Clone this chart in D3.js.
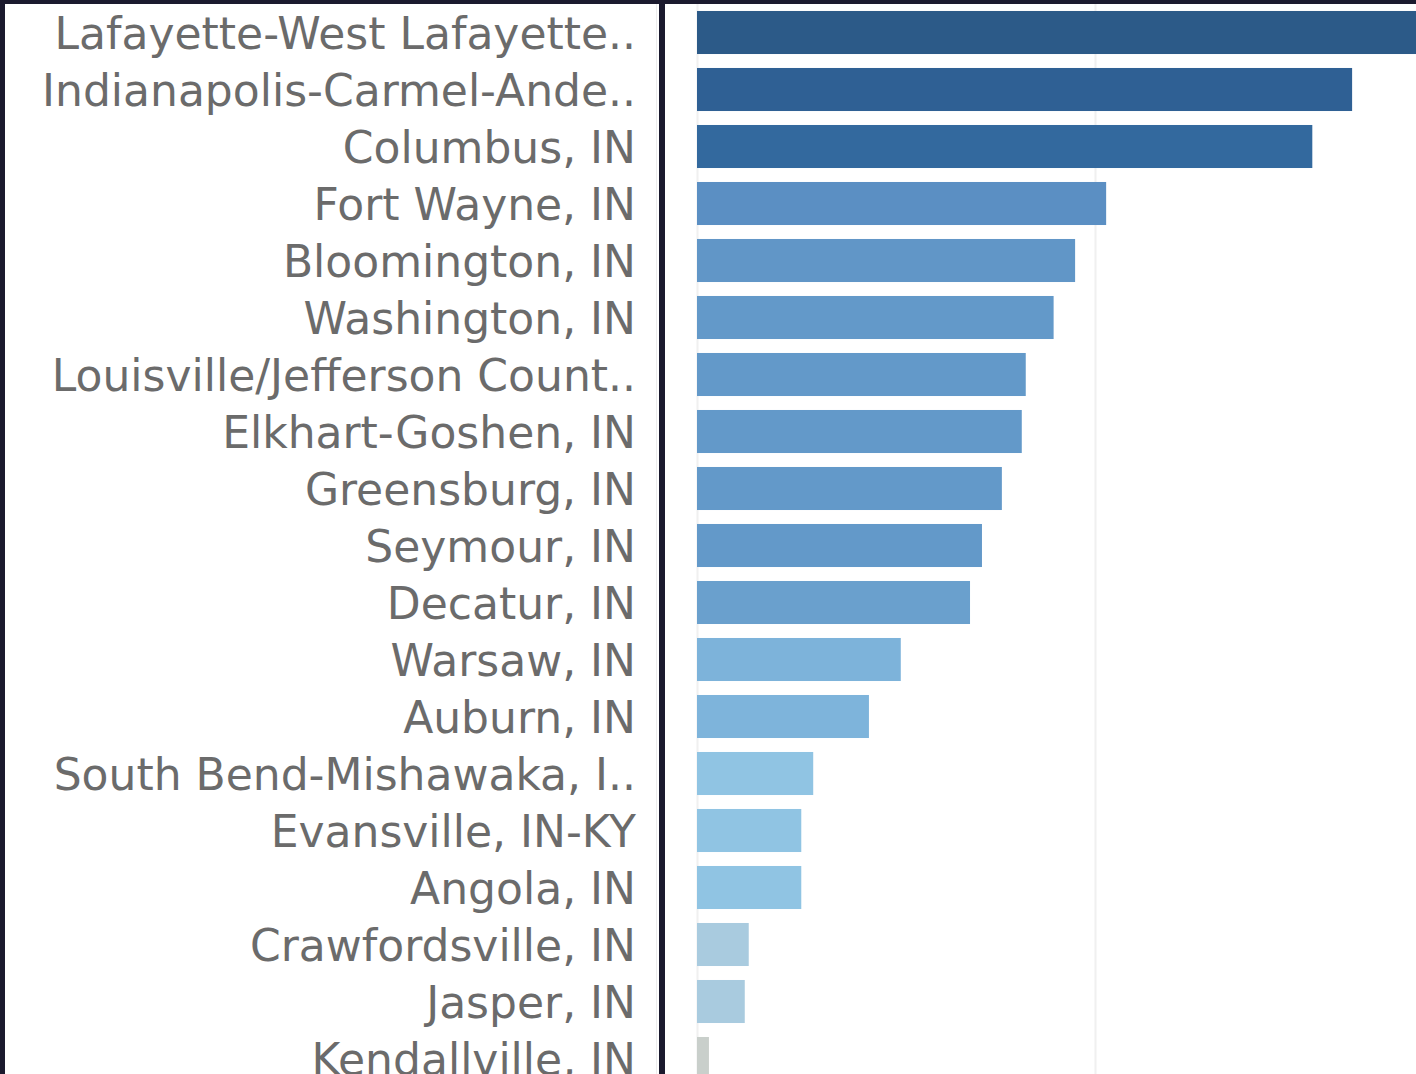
<!DOCTYPE html>
<html>
<head>
<meta charset="utf-8">
<script src="https://cdn.jsdelivr.net/npm/d3@7"></script>
<style>
  html, body { margin: 0; padding: 0; background: #1b1a2e; }
  svg { display: block; }
</style>
</head>
<body>
<div id="chart"></div>
<script>
// metro areas, top to bottom
var areas = [
    "Lafayette-West Lafayette..",
    "Indianapolis-Carmel-Ande..",
    "Columbus, IN",
    "Fort Wayne, IN",
    "Bloomington, IN",
    "Washington, IN",
    "Louisville/Jefferson Count..",
    "Elkhart-Goshen, IN",
    "Greensburg, IN",
    "Seymour, IN",
    "Decatur, IN",
    "Warsaw, IN",
    "Auburn, IN",
    "South Bend-Mishawaka, I..",
    "Evansville, IN-KY",
    "Angola, IN",
    "Crawfordsville, IN",
    "Jasper, IN",
    "Kendallville, IN"
];
// bar length measure
var values = [93, 82.3, 77.3, 51.4, 47.5, 44.8, 41.3, 40.8, 38.3, 35.8, 34.3, 25.6, 21.6, 14.6, 13.1, 13.1, 6.5, 6.0, 1.5];
// colour measure
var shade = [1.0, 0.95, 0.9, 0.75, 0.68, 0.65, 0.65, 0.65, 0.65, 0.65, 0.6, 0.45, 0.44, 0.3, 0.3, 0.3, 0.15, 0.15, 0.0];
var gridTicks = [0, 50];

var W = 1416, H = 1074;
var labelRight = 636;

var svg = d3.select("#chart").append("svg")
    .attr("width", W)
    .attr("height", H);

// white panels on dark frame
svg.append("rect").attr("x", 5).attr("y", 4).attr("width", 654).attr("height", H - 4).attr("fill", "#ffffff");
svg.append("rect").attr("x", 665).attr("y", 4).attr("width", W - 665).attr("height", H - 4).attr("fill", "#ffffff");
svg.append("line").attr("x1", 656.5).attr("x2", 656.5).attr("y1", 4).attr("y2", H)
    .attr("stroke", "#ececec").attr("stroke-width", 1);

var y = d3.scaleBand()
    .domain(areas)
    .range([4, 4 + 57 * areas.length])
    .paddingInner(0.245)
    .paddingOuter(0.1225);

var x = d3.scaleLinear()
    .domain([0, 100])
    .range([697, 697 + 796]);

var color = d3.scaleLinear()
    .domain([0, 0.15, 0.3, 0.45, 0.65, 0.75, 0.9, 0.95, 1])
    .range(["#c9cfcb", "#a9cbdf", "#90c4e3", "#7db3da", "#6399c9", "#5b8fc3", "#33699e", "#2f6094", "#2c5a88"]);

var plot = svg.append("g");

plot.selectAll(".grid")
    .data(gridTicks)
    .enter().append("line")
    .attr("class", "grid")
    .attr("x1", function (d) { return x(d) + 0.5; })
    .attr("x2", function (d) { return x(d) + 0.5; })
    .attr("y1", 4)
    .attr("y2", H)
    .attr("stroke", "#f0f0f0")
    .attr("stroke-width", 2);

plot.selectAll(".bar")
    .data(areas)
    .enter().append("rect")
    .attr("class", "bar")
    .attr("x", x(0))
    .attr("y", function (d) { return y(d); })
    .attr("width", function (d, i) { return x(values[i]) - x(0); })
    .attr("height", y.bandwidth())
    .attr("fill", function (d, i) { return color(shade[i]); });

svg.append("g").selectAll("text")
    .data(areas)
    .enter().append("text")
    .attr("x", labelRight)
    .attr("y", function (d) { return y(d) + y.bandwidth() / 2; })
    .attr("dy", "0.37em")
    .attr("text-anchor", "end")
    .attr("fill", "#6b6b6b")
    .style("font-family", "'DejaVu Sans', sans-serif")
    .style("font-size", "44px")
    .text(function (d) { return d; });
</script>
</body>
</html>
